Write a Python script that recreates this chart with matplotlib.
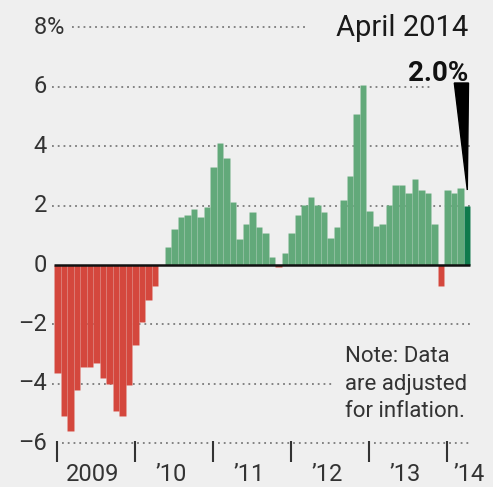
import matplotlib
matplotlib.use("Agg")
import matplotlib.pyplot as plt
from matplotlib.patches import Polygon

plt.rcParams['font.family'] = ['Roboto', 'DejaVu Sans']

# ---- data (monthly change, %, Jan 2009 .. Apr 2014) ----
values_2009 = [-3.65, -5.1, -5.6, -4.2, -3.42, -3.42, -3.31, -3.8, -4.0, -4.9, -5.1, -4.05]
values_2010 = [-2.69, -1.91, -1.18, -0.71, 0.0, 0.6, 1.2, 1.6, 1.68, 1.89, 1.6, 1.96]
values_2011 = [3.29, 4.1, 3.59, 2.13, 0.88, 1.37, 1.8, 1.29, 1.09, 0.28, -0.08, 0.39]
values_2012 = [1.07, 1.67, 2.02, 2.28, 2.02, 1.8, 0.9, 1.29, 2.19, 2.98, 5.1, 6.05]
values_2013 = [1.83, 1.3, 1.38, 2.02, 2.69, 2.69, 2.41, 2.91, 2.52, 2.41, 1.38, -0.7]
values_2014 = [2.52, 2.41, 2.6, 2.0]
values = values_2009 + values_2010 + values_2011 + values_2012 + values_2013 + values_2014

year_labels = ["2009", "\u201910", "\u201911", "\u201912", "\u201913", "\u201914"]
ytick_values = [8, 6, 4, 2, 0, -2, -4, -6]
latest_label = "April 2014"
latest_value_text = "2.0%"
note_lines = ["Note: Data", "are adjusted", "for inflation."]

# ---- styling ----
BG = '#efefef'
RED = '#d4473d'
GREEN = '#62a97a'
DARK_GREEN = '#0f7a4c'
GRID = '#7a7a7a'

W, H = 493, 487
fig = plt.figure(figsize=(W / 100, H / 100), dpi=100, facecolor=BG)
ax = fig.add_axes([0, 0, 1, 1])
ax.set_facecolor(BG)
ax.axis('off')

# pixel -> data helpers (layout only)
X0, DX = 57.25, 6.5
Y0, DY = 265.0, 29.7
def px2i(px):
    return (px - X0) / DX
def py2v(py):
    return (Y0 - py) / DY

ax.set_xlim(px2i(0), px2i(W))
ax.set_ylim(py2v(H), py2v(0))

n = len(values)
idx = list(range(n))
colors = [RED if v < 0 else GREEN for v in values]
colors[-1] = DARK_GREEN
ax.bar(idx, values, width=1.0, color=colors, edgecolor=(1, 1, 1, 0.07),
       linewidth=0.5, zorder=2)

# dotted gridlines (extents avoid labels/annotations)
grid_extent = {8: (72, 308), 6: (52, 430), 4: (52, 470), 2: (52, 470),
               -2: (52, 470), -4: (52, 332), -6: (62, 470)}
for lvl, (a, b) in grid_extent.items():
    ax.hlines(lvl, px2i(a), px2i(b), colors=GRID, linestyles=(0, (1, 2.2)),
              linewidth=1.3, zorder=1)

# zero line
ax.hlines(0, -0.5, n - 0.5, colors='#111111', linewidth=1.8, zorder=3)

# y labels
lab_x = px2i(47)
for v in ytick_values:
    if v == 8:
        ax.text(lab_x, v, "8", ha='right', va='center', fontsize=17, color='#333333')
        ax.text(lab_x, v, "%", ha='left', va='center', fontsize=17, color='#333333')
    else:
        s = str(v).replace('-', '\u2013')
        ax.text(lab_x, v, s, ha='right', va='center', fontsize=17, color='#333333')

# year ticks and labels
jan_idx = list(range(0, n, 12))
ax.vlines(jan_idx, py2v(441), py2v(462), colors='#333333', linewidth=1.5, zorder=3)
label_pos = [j + 5.5 for j in jan_idx[:-1]] + [n - 0.7]
for x, lab in zip(label_pos, year_labels):
    ax.text(x, py2v(481), lab, ha='center', va='baseline', fontsize=17, color='#333333')

# annotation
ax.text(px2i(468), py2v(36), latest_label, ha='right', va='baseline',
        fontsize=21, color='#1a1a1a')
ax.text(px2i(468), py2v(81), latest_value_text, ha='right', va='baseline',
        fontsize=20, fontweight='bold', color='#111111')
wedge = Polygon([(px2i(454.3), py2v(83)), (px2i(468.5), py2v(83)),
                 (px2i(467.3), py2v(190))], closed=True, color='black', zorder=4)
ax.add_patch(wedge)

# note
for py, line in zip([361.7, 390, 417], note_lines):
    ax.text(px2i(345), py2v(py), line, ha='left', va='baseline', fontsize=16,
            color='#333333')

fig.savefig('out.png', dpi=100, facecolor=BG)
